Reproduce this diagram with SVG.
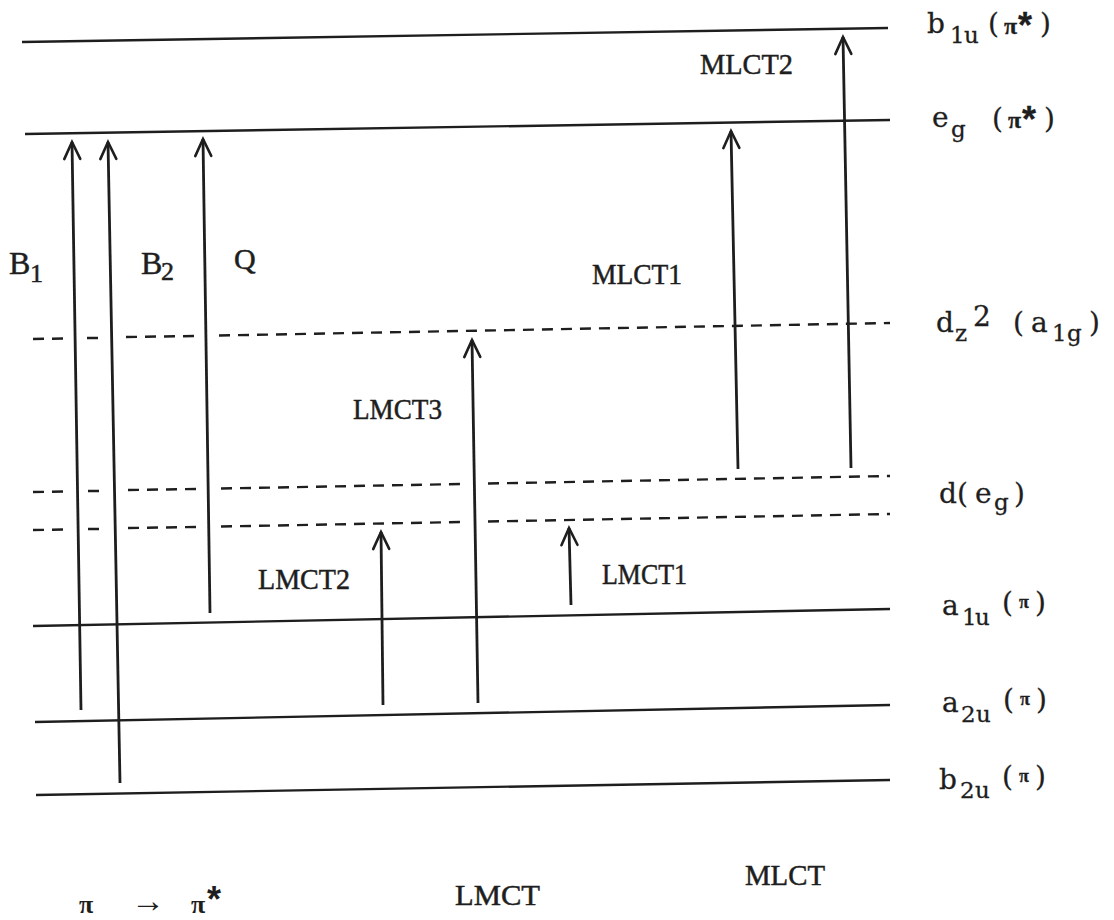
<svg xmlns="http://www.w3.org/2000/svg" width="1114" height="920" viewBox="0 0 1114 920">
<defs>
<style>
.lv{stroke:#1e1e1e;stroke-width:2.4;fill:none}
.dash{stroke:#1e1e1e;stroke-width:2.4;fill:none;stroke-dasharray:11 8}
.ar{stroke:#1e1e1e;stroke-width:2.8;fill:none;marker-end:url(#head)}
.lb{font-family:"Liberation Serif",serif;font-size:30px;fill:#1e1e1e;stroke:#1e1e1e;stroke-width:0.5}
.st{font-family:"DejaVu Serif","Liberation Serif",serif;font-size:28px;fill:#1e1e1e;stroke:#1e1e1e;stroke-width:0.3}
.sub{font-size:23px}
.pi{font-family:"Liberation Serif",serif;font-size:24px;font-weight:bold;fill:#1e1e1e}
.star{font-family:"Liberation Sans",sans-serif;font-size:36px;font-weight:bold;fill:#1e1e1e}
</style>
<marker id="head" markerUnits="userSpaceOnUse" markerWidth="24" markerHeight="24" refX="0" refY="0" viewBox="-20 -12 24 24" orient="auto" overflow="visible">
<path d="M-17,-8 L0,0 L-17,8" stroke="#1e1e1e" stroke-width="2.6" fill="none" stroke-linecap="round" stroke-linejoin="miter"/>
</marker>
</defs>
<rect width="1114" height="920" fill="#ffffff"/>

<g id="levels">
<g id="b1u"><line class="lv" x1="22" y1="42" x2="888" y2="28"/>
<text class="st" x="927" y="33">b<tspan class="sub" x="950" y="43">1</tspan><tspan class="sub" x="964" y="43">u</tspan><tspan x="988" y="33">(</tspan><tspan class="pi" x="1004" y="34">π</tspan><tspan class="star" x="1018" y="38">*</tspan><tspan x="1040" y="33">)</tspan></text></g>
<g id="eg"><line class="lv" x1="25" y1="134" x2="890" y2="120"/>
<text class="st" x="932" y="127">e<tspan class="sub" x="951" y="137">g</tspan><tspan x="992" y="128">(</tspan><tspan class="pi" x="1008" y="128">π</tspan><tspan class="star" x="1022" y="132">*</tspan><tspan x="1044" y="128">)</tspan></text></g>
<g id="dz2"><path class="dash" d="M33,339 L64,338.5 M87,338 L100,338 M126,337 L196,336 M219,335.5 L890,323"/>
<text class="st" x="936" y="332">d<tspan class="sub" x="955" y="341">z</tspan><tspan x="973" y="326">2</tspan><tspan x="1013" y="332">(</tspan><tspan x="1031" y="332">a</tspan><tspan class="sub" x="1052" y="341">1</tspan><tspan class="sub" x="1067" y="341">g</tspan><tspan x="1089" y="332">)</tspan></text></g>
<g id="deg"><path class="dash" d="M33,492 L65,491.5 M88,491 L100,491 M128,490 L197,489 M221,488.5 L463,484 M488,483.5 L890,476"/>
<path class="dash" d="M33,530 L65,529.5 M88,529 L101,529 M128,528 L197,527 M221,526.5 L463,522 M488,521.5 L890,514"/>
<text class="st" x="939" y="503">d<tspan x="957" y="503">(</tspan><tspan x="975" y="503">e</tspan><tspan class="sub" x="994" y="510">g</tspan><tspan x="1014" y="503">)</tspan></text></g>
<g id="a1u"><line class="lv" x1="33" y1="626" x2="890" y2="609"/>
<text class="st" x="942" y="615">a<tspan class="sub" x="962" y="625">1</tspan><tspan class="sub" x="975" y="625">u</tspan><tspan x="1002" y="612">(</tspan><tspan class="pi" x="1019" y="608" style="font-size:18px">π</tspan><tspan x="1035" y="612">)</tspan></text></g>
<g id="a2u"><line class="lv" x1="35" y1="722" x2="890" y2="705"/>
<text class="st" x="942" y="712">a<tspan class="sub" x="961" y="722">2</tspan><tspan class="sub" x="976" y="722">u</tspan><tspan x="1003" y="709">(</tspan><tspan class="pi" x="1020" y="705" style="font-size:18px">π</tspan><tspan x="1036" y="709">)</tspan></text></g>
<g id="b2u"><line class="lv" x1="36" y1="795" x2="890" y2="780"/>
<text class="st" x="939" y="789">b<tspan class="sub" x="960" y="798">2</tspan><tspan class="sub" x="975" y="798">u</tspan><tspan x="1002" y="786">(</tspan><tspan class="pi" x="1019" y="782" style="font-size:18px">π</tspan><tspan x="1035" y="786">)</tspan></text></g>
</g>

<g id="connectors">
<line id="B1" class="ar" x1="81" y1="710" x2="72" y2="142"/>
<line id="B2" class="ar" x1="120" y1="783" x2="108" y2="142"/>
<line id="Q" class="ar" x1="210" y1="613" x2="203" y2="139"/>
<line id="LMCT2a" class="ar" x1="383" y1="705" x2="381" y2="532"/>
<line id="LMCT3a" class="ar" x1="478" y1="703" x2="472" y2="340"/>
<line id="LMCT1a" class="ar" x1="571" y1="605" x2="569" y2="528"/>
<line id="MLCT1a" class="ar" x1="738" y1="469" x2="731" y2="131"/>
<line id="MLCT2a" class="ar" x1="851" y1="468" x2="843" y2="37"/>
</g>

<g id="labels">
<text class="lb" x="9" y="274" style="font-size:32px">B<tspan x="30" y="282" style="font-size:26px">1</tspan></text>
<text class="lb" x="141" y="274" style="font-size:32px">B<tspan x="161" y="280" style="font-size:26px">2</tspan></text>
<text class="lb" x="234" y="269">Q</text>
<text class="lb" x="700" y="74" textLength="93" lengthAdjust="spacingAndGlyphs">MLCT2</text>
<text class="lb" x="592" y="284" textLength="90" lengthAdjust="spacingAndGlyphs">MLCT1</text>
<text class="lb" x="353" y="419" textLength="89" lengthAdjust="spacingAndGlyphs">LMCT3</text>
<text class="lb" x="258" y="589" textLength="92" lengthAdjust="spacingAndGlyphs">LMCT2</text>
<text class="lb" x="602" y="584" textLength="85" lengthAdjust="spacingAndGlyphs">LMCT1</text>
<text class="lb" x="455" y="905" textLength="85" lengthAdjust="spacingAndGlyphs">LMCT</text>
<text class="lb" x="745" y="885" textLength="80" lengthAdjust="spacingAndGlyphs">MLCT</text>
<text class="pi" x="79" y="913" style="font-size:26px">π</text>
<text class="pi" x="131" y="912" style="font-size:34px">→</text>
<text class="pi" x="191" y="913" style="font-size:26px">π</text>
<text class="star" x="207" y="912">*</text>
</g>
</svg>
